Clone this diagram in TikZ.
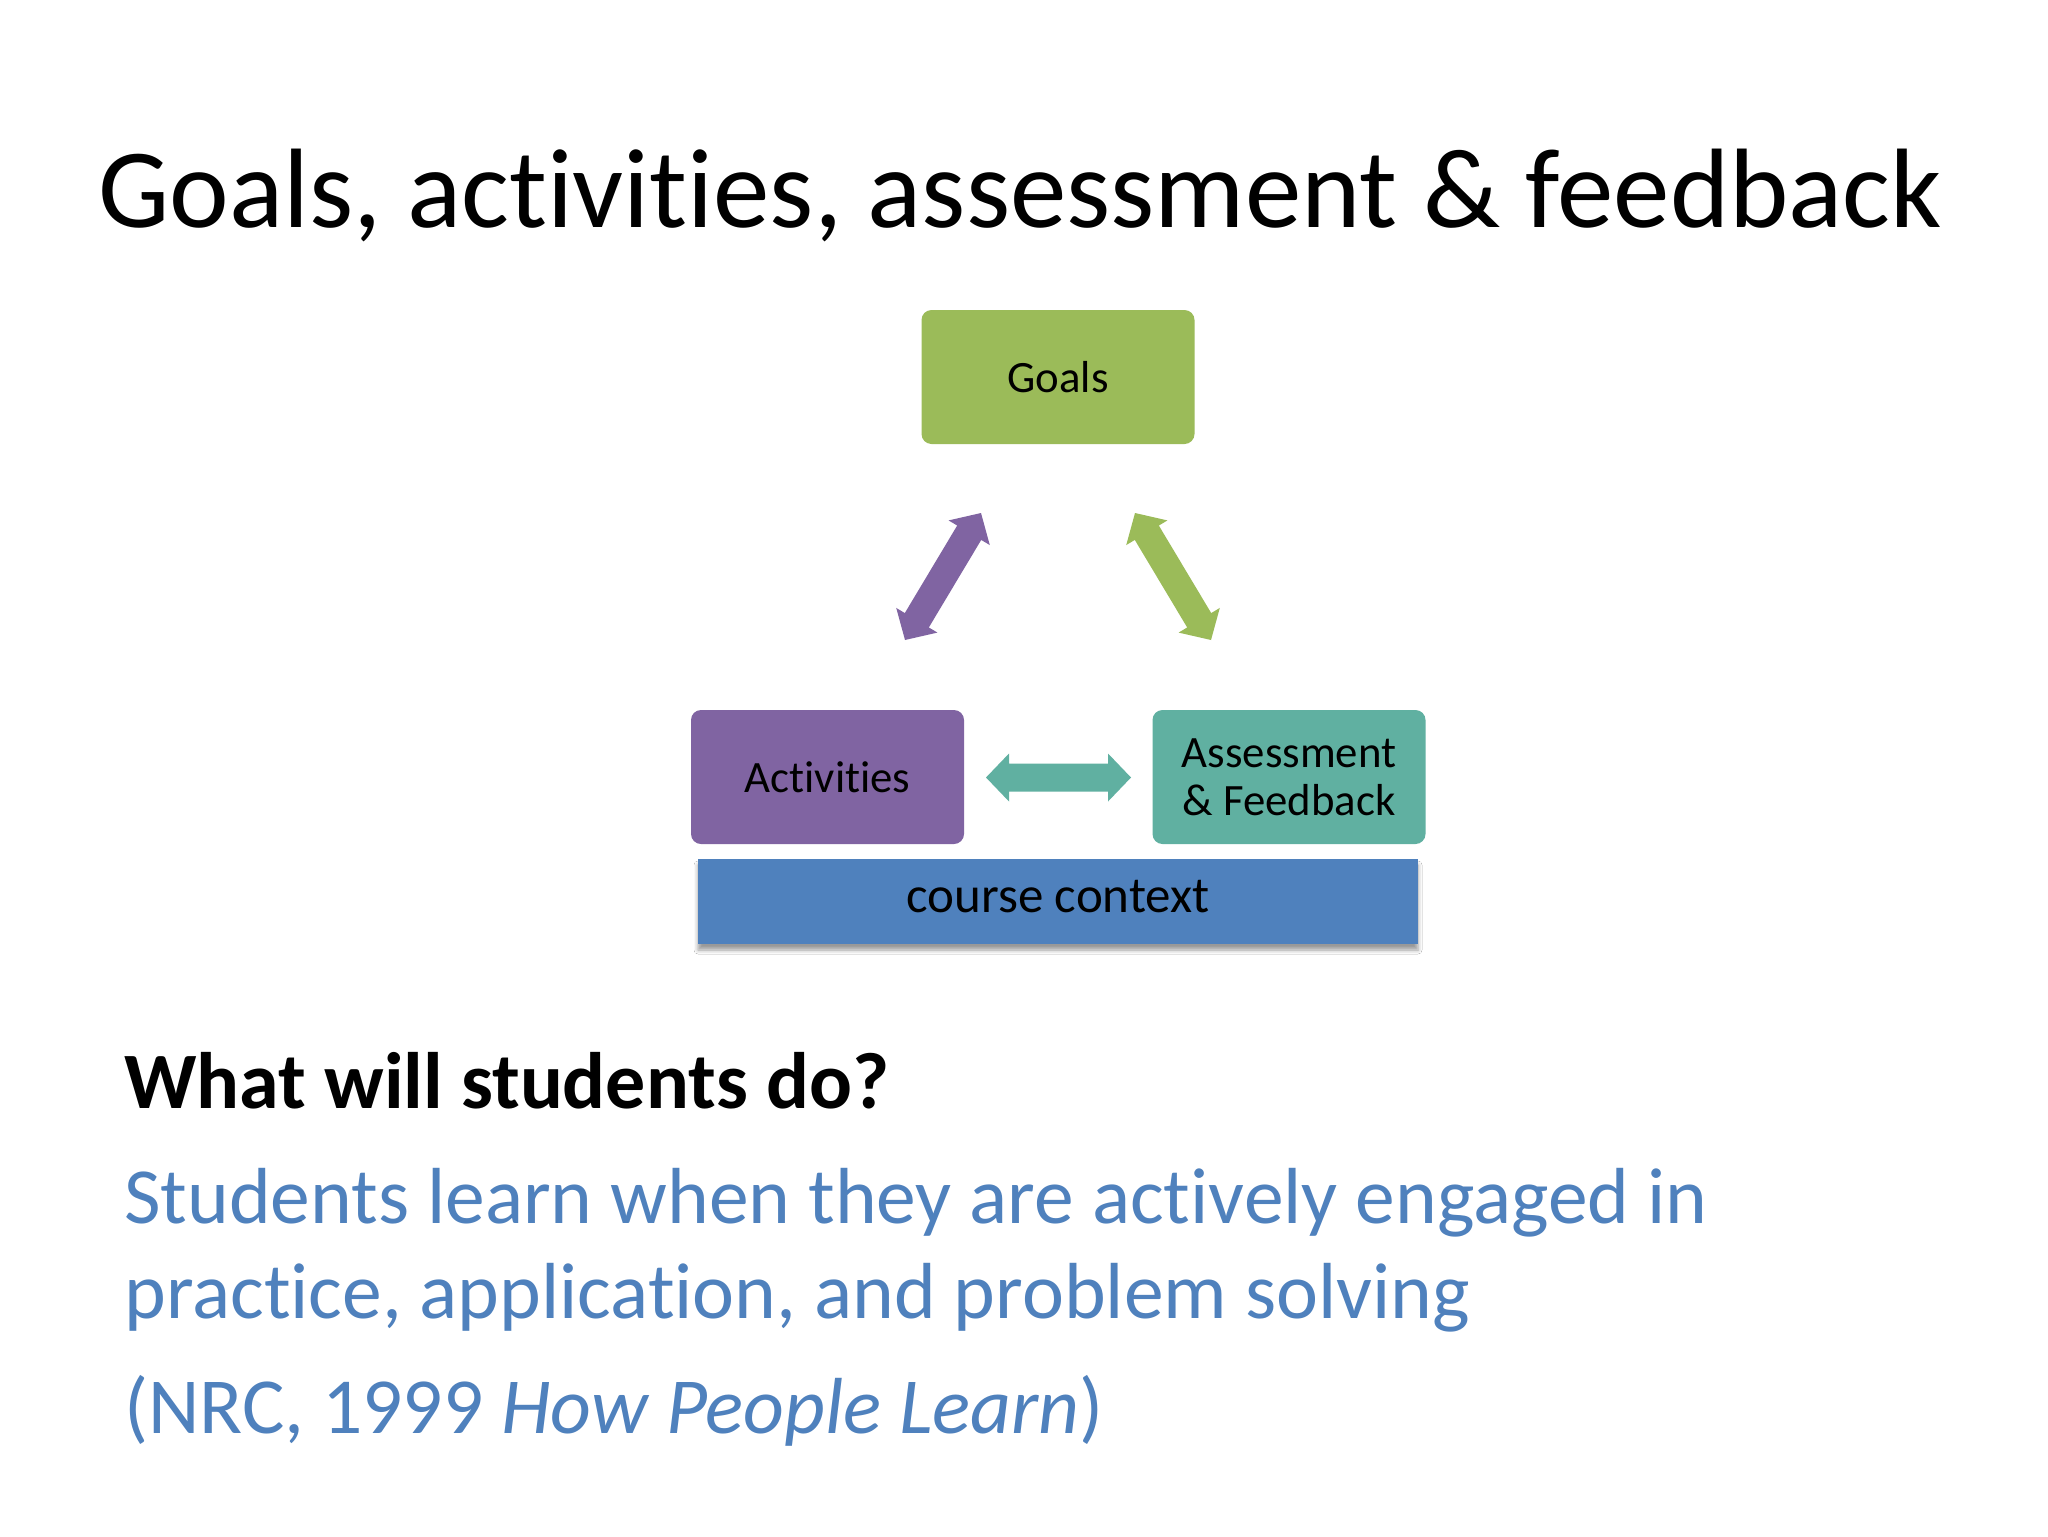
\documentclass[tikz,border=0pt]{standalone}
\usepackage{fontspec}
\setmainfont{Carlito}[Ligatures=NoCommon, RawFeature=-liga]
\usetikzlibrary{shadows.blur}
\definecolor{goalgreen}{RGB}{155,187,89}
\definecolor{actpurple}{RGB}{128,100,162}
\definecolor{assteal}{RGB}{96,176,161}
\definecolor{ctxblue}{RGB}{79,129,189}
\definecolor{txtblue}{RGB}{79,129,189}
\tikzset{
  box/.style={rounded corners=5pt, inner sep=0pt, minimum width=136.5pt, minimum height=67pt, align=center, font=\fontsize{22.4}{24}\selectfont},
  ctxbox/.style={fill=ctxblue, inner sep=0pt, minimum width=360pt, minimum height=42.5pt,
    blur shadow={shadow xshift=0pt, shadow yshift=-3pt, shadow blur radius=2pt, shadow opacity=40}},
  bodytext/.style={anchor=base west, inner sep=0pt, font=\fontsize{39.75}{47}\selectfont},
}
\newcommand{\dblarrow}[5]{% center x, center y, angle, half length, color
  \begin{scope}[shift={(#1,#2)}, rotate=#3]
    \fill[#5] (-#4,0) -- (-#4+23,24) -- (-#4+23,14) -- (#4-23,14) -- (#4-23,24) -- (#4,0)
      -- (#4-23,-24) -- (#4-23,-14) -- (-#4+23,-14) -- (-#4+23,-24) -- cycle;
  \end{scope}}
\begin{document}
\begin{tikzpicture}[x=0.5pt, y=-0.5pt]
\useasboundingbox[fill=white] (0,0) rectangle (2048,1536);

\node[anchor=base west, inner sep=0pt, font=\fontsize{56.5}{68}\selectfont] (title) at (98,227) {Goals, activities, assessment \& feedback};

\node[box, fill=goalgreen] (goals) at (1058,377) {Goals};
\node[box, fill=actpurple] (act) at (827.5,777) {Activities};
\node[box, fill=assteal] (ass) at (1289,777) {Assessment\\\& Feedback};
\node[ctxbox] (ctx) at (1058,901.5) {};
\node[anchor=base, inner sep=0pt, font=\fontsize{25.5}{30}\selectfont] (ctxtext) at (1058,912) {course context};

\dblarrow{943}{576.5}{59.1}{74}{actpurple}
\dblarrow{1173}{576.5}{-59.1}{74}{goalgreen}
\dblarrow{1058.5}{777.5}{0}{72.5}{assteal}

\node[bodytext, font=\bfseries\fontsize{40}{47}\selectfont] (q) at (124,1108) {What will students do?};
\node[bodytext, text=txtblue] (l1) at (124,1223) {Students learn when they are actively engaged in};
\node[bodytext, text=txtblue] (l2) at (124,1318) {practice, application, and problem solving};
\node[bodytext, text=txtblue] (l3) at (124,1433) {(NRC, 1999 \textit{How People Learn})};
\end{tikzpicture}
\end{document}
